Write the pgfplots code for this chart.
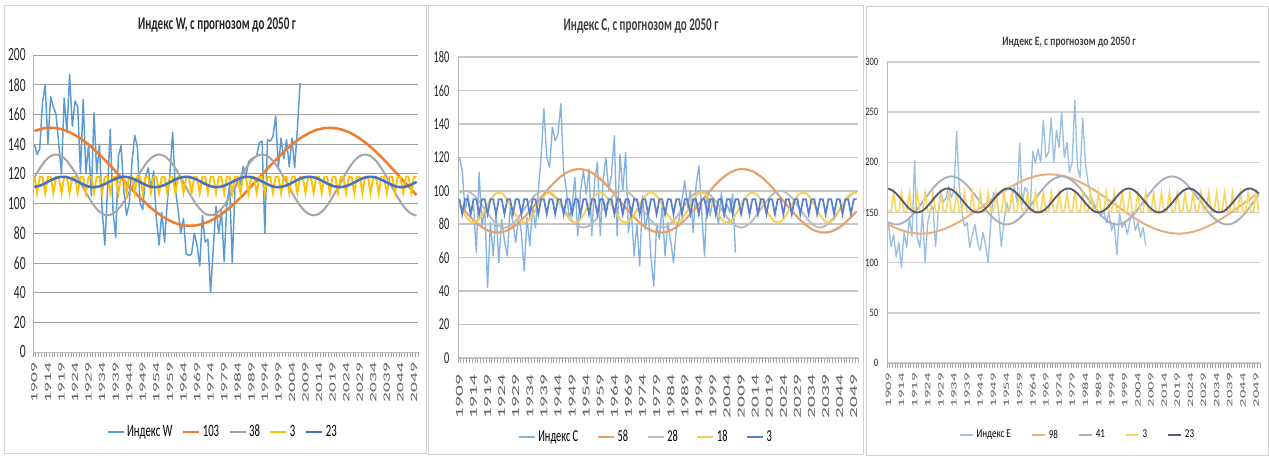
\documentclass[border=0pt]{standalone}
\usepackage{fontspec}
\usepackage{graphicx}
\usepackage{pgfplots}
\pgfplotsset{compat=1.18}
\setmainfont{Carlito}
\newfontfamily\sqA[FakeStretch=0.62]{Carlito}
\newfontfamily\sqB[FakeStretch=0.75]{Carlito}
\newcommand\yl[1]{\scalebox{1}[0.5]{#1}}

\definecolor{wI}{HTML}{5B9BD5}
\definecolor{wO}{HTML}{ED7D31}
\definecolor{wG}{HTML}{A5A5A5}
\definecolor{wY}{HTML}{FFC000}
\definecolor{wB}{HTML}{4472C4}
\definecolor{cI}{HTML}{86B2E0}
\definecolor{cO}{HTML}{E8A06A}
\definecolor{cG}{HTML}{BBBBBB}
\definecolor{cY}{HTML}{F5CE55}
\definecolor{cB}{HTML}{5A80CC}
\definecolor{eI}{HTML}{9CC0E4}
\definecolor{eO}{HTML}{E7B084}
\definecolor{eG}{HTML}{A8AEBE}
\definecolor{eY}{HTML}{F7D662}
\definecolor{eD}{HTML}{535B78}

\pgfplotsset{
  base/.style={
    scale only axis,
    anchor=south west,
    xmin=1908.5, xmax=2050.5,
    axis lines*=left,
    axis line style={draw=black!28, line width=0.6pt},
    xtick={1909,1914,...,2049},
    minor xtick={1908.5,1909.5,...,2050.5},
    xticklabel={\yl{\pgfmathprintnumber[int detect,1000 sep={}]{\tick}}},
    major tick length=0pt,
    minor tick length=4pt,
    tick align=outside,
    minor x tick style={draw=black!35, line width=0.5pt},
    ymajorgrids,
    /pgf/number format/assume math mode=true,
    x tick label style={rotate=90, anchor=east, inner sep=0pt, text=black!62},
    y tick label style={text=black!85},
    legend columns=-1,
    legend image code/.code={\draw[#1] (0pt,0pt) -- (12pt,0pt);},
    legend style={draw=none, fill=none, anchor=center, inner sep=0pt},
  },
}

\begin{document}
\begin{tikzpicture}
\path[use as bounding box] (0,0) rectangle (951.75pt,342.75pt);
\fill[white] (0,0) rectangle (951.75pt,342.75pt);
\draw[black!18] (3pt,3pt) rectangle (319.5pt,339pt);
\draw[black!18] (321pt,2.25pt) rectangle (647.25pt,339pt);
\draw[black!18] (649.5pt,1.5pt) rectangle (951pt,338.25pt);

\node[font=\sqA\bfseries\fontsize{13.4}{15}\selectfont, text=black!85] at (162.75pt,324pt) {Индекс W, с прогнозом до 2050 г};
\node[font=\sqA\bfseries\fontsize{13.4}{15}\selectfont, text=black!75] at (480.75pt,323.25pt) {Индекс С, с прогнозом до 2050 г};
\node[font=\sqB\bfseries\fontsize{9.6}{12}\selectfont, text=black!75] at (801.75pt,311.25pt) {Индекс Е, с прогнозом до 2050 г};

% ---------------- Index W ----------------
\begin{axis}[base, at={(24.75pt,78.75pt)}, width=288.75pt, height=222.75pt,
  ymin=0, ymax=200, ytick={0,20,...,200},
  grid style={draw=black!38, line width=0.6pt},
  yticklabel style={font=\sqA\fontsize{14}{14}\selectfont, xshift=-2pt},
  xticklabel style={font=\fontsize{14.5}{15}\selectfont},
  xticklabel shift=8pt,
  legend style={at={(0.494,-0.269)}, font=\sqA\fontsize{13}{13}\selectfont,
    /tikz/every even column/.append style={column sep=5pt}},
]
\addplot[wI, line width=1.1pt, line join=round] coordinates {
(1909,140)(1910,133)(1911,137)(1912,168)(1913,180)(1914,140)(1915,172)(1916,165)(1917,160)(1918,140)
(1919,120)(1920,171)(1921,148)(1922,187)(1923,152)(1924,169)(1925,165)(1926,120)(1927,170)(1928,120)
(1929,140)(1930,105)(1931,161)(1932,120)(1933,140)(1934,96)(1935,72)(1936,110)(1937,150)(1938,95)
(1939,77)(1940,132)(1941,139)(1942,108)(1943,92)(1944,100)(1945,128)(1946,146)(1947,138)(1948,100)
(1949,96)(1950,118)(1951,124)(1952,110)(1953,122)(1954,90)(1955,72)(1956,94)(1957,74)(1958,100)
(1959,120)(1960,148)(1961,110)(1962,96)(1963,80)(1964,90)(1965,66)(1966,65)(1967,66)(1968,80)
(1969,72)(1970,58)(1971,92)(1972,74)(1973,76)(1974,40)(1975,70)(1976,98)(1977,80)(1978,95)
(1979,61)(1980,100)(1981,112)(1982,60)(1983,110)(1984,117)(1985,113)(1986,125)(1987,118)(1988,128)
(1989,130)(1990,131)(1991,132)(1992,141)(1993,142)(1994,80)(1995,143)(1996,142)(1997,145)(1998,159)
(1999,124)(2000,144)(2001,130)(2002,143)(2003,125)(2004,144)(2005,124)(2006,150)(2007,181)
};
\addlegendentry{Индекс W}
\addplot[wO, line width=1.9pt, smooth] coordinates {
(1909,148.8)(1913,150.8)(1917,150.8)(1921,148.8)(1925,145.0)(1929,139.7)(1933,133.0)(1937,125.5)
(1941,117.5)(1945,109.5)(1949,102.1)(1953,95.6)(1957,90.4)(1961,86.8)(1965,85.1)(1969,85.4)
(1973,87.6)(1977,91.5)(1981,97.1)(1985,103.9)(1989,111.5)(1993,119.5)(1997,127.4)(2001,134.8)
(2005,141.2)(2009,146.1)(2013,149.5)(2017,150.9)(2021,150.4)(2025,148.0)(2029,143.8)(2033,138.1)
(2037,131.2)(2041,123.5)(2045,115.5)(2049,107.6)(2050,105.7)
};
\addlegendentry{103}
\addplot[wG, line width=1.5pt, smooth] coordinates {
(1909,117.5)(1911,123.7)(1913,128.7)(1915,131.9)(1917,133.0)(1919,131.9)(1921,128.7)(1923,123.7)(1925,117.5)(1927,110.8)
(1929,104.3)(1931,98.6)(1933,94.5)(1935,92.3)(1937,92.3)(1939,94.5)(1941,98.6)(1943,104.3)(1945,110.8)
(1947,117.5)(1949,123.7)(1951,128.7)(1953,131.9)(1955,133.0)(1957,131.9)(1959,128.7)(1961,123.7)(1963,117.5)(1965,110.8)
(1967,104.3)(1969,98.6)(1971,94.5)(1973,92.3)(1975,92.3)(1977,94.5)(1979,98.6)(1981,104.3)(1983,110.8)
(1985,117.5)(1987,123.7)(1989,128.7)(1991,131.9)(1993,133.0)(1995,131.9)(1997,128.7)(1999,123.7)(2001,117.5)(2003,110.8)
(2005,104.3)(2007,98.6)(2009,94.5)(2011,92.3)(2013,92.3)(2015,94.5)(2017,98.6)(2019,104.3)(2021,110.8)
(2023,117.5)(2025,123.7)(2027,128.7)(2029,131.9)(2031,133.0)(2033,131.9)(2035,128.7)(2037,123.7)(2039,117.5)(2041,110.8)
(2043,104.3)(2045,98.6)(2047,94.5)(2049,92.3)(2050,92.0)
};
\addlegendentry{38}
\addplot[wY, line width=1.4pt] coordinates {
(1909,118)(1910,107)(1911,118)(1912,118)(1913,107)(1914,118)(1915,118)(1916,107)(1917,118)
(1918,118)(1919,107)(1920,118)(1921,118)(1922,107)(1923,118)(1924,118)(1925,107)(1926,118)
(1927,118)(1928,107)(1929,118)(1930,118)(1931,107)(1932,118)(1933,118)(1934,107)(1935,118)
(1936,118)(1937,107)(1938,118)(1939,118)(1940,107)(1941,118)(1942,118)(1943,107)(1944,118)
(1945,118)(1946,107)(1947,118)(1948,118)(1949,107)(1950,118)(1951,118)(1952,107)(1953,118)
(1954,118)(1955,107)(1956,118)(1957,118)(1958,107)(1959,118)(1960,118)(1961,107)(1962,118)
(1963,118)(1964,107)(1965,118)(1966,118)(1967,107)(1968,118)(1969,118)(1970,107)(1971,118)
(1972,118)(1973,107)(1974,118)(1975,118)(1976,107)(1977,118)(1978,118)(1979,107)(1980,118)
(1981,118)(1982,107)(1983,118)(1984,118)(1985,107)(1986,118)(1987,118)(1988,107)(1989,118)
(1990,118)(1991,107)(1992,118)(1993,118)(1994,107)(1995,118)(1996,118)(1997,107)(1998,118)
(1999,118)(2000,107)(2001,118)(2002,118)(2003,107)(2004,118)(2005,118)(2006,107)(2007,118)
(2008,118)(2009,107)(2010,118)(2011,118)(2012,107)(2013,118)(2014,118)(2015,107)(2016,118)
(2017,118)(2018,107)(2019,118)(2020,118)(2021,107)(2022,118)(2023,118)(2024,107)(2025,118)
(2026,118)(2027,107)(2028,118)(2029,118)(2030,107)(2031,118)(2032,118)(2033,107)(2034,118)
(2035,118)(2036,107)(2037,118)(2038,118)(2039,107)(2040,118)(2041,118)(2042,107)(2043,118)
(2044,118)(2045,107)(2046,118)(2047,118)(2048,107)(2049,118)(2050,118)
};
\addlegendentry{3}
\addplot[wB, line width=1.9pt, smooth] coordinates {
(1909,111.1)(1911,112.0)(1913,113.7)(1915,115.6)(1917,117.2)(1919,118.0)(1921,117.7)(1923,116.5)(1925,114.7)(1927,112.8)
(1929,111.4)(1931,111.0)(1933,111.6)(1935,113.1)(1937,115.0)(1939,116.7)(1941,117.8)(1943,117.9)(1945,117.0)(1947,115.3)
(1949,113.4)(1951,111.8)(1953,111.0)(1955,111.3)(1957,112.5)(1959,114.3)(1961,116.2)(1963,117.5)(1965,118.0)(1967,117.4)
(1969,116.0)(1971,114.1)(1973,112.3)(1975,111.2)(1977,111.1)(1979,112.0)(1981,113.6)(1983,115.5)(1985,117.1)(1987,118.0)
(1989,117.7)(1991,116.6)(1993,114.8)(1995,112.9)(1997,111.5)(1999,111.0)(2001,111.6)(2003,113.0)(2005,114.9)(2007,116.7)
(2009,117.8)(2011,117.9)(2013,117.1)(2015,115.4)(2017,113.5)(2019,111.9)(2021,111.1)(2023,111.3)(2025,112.4)(2027,114.2)
(2029,116.1)(2031,117.5)(2033,118.0)(2035,117.5)(2037,116.0)(2039,114.2)(2041,112.4)(2043,111.2)(2045,111.1)(2047,111.9)
(2049,113.6)(2050,114.5)
};
\addlegendentry{23}
\end{axis}

% ---------------- Index C ----------------
\begin{axis}[base, at={(343.5pt,74.25pt)}, width=300pt, height=225.75pt,
  ymin=0, ymax=180, ytick={0,20,...,180},
  grid style={draw=black!22, line width=1.2pt},
  yticklabel style={font=\sqA\fontsize{12.5}{12.5}\selectfont, xshift=-3pt},
  xticklabel style={font=\fontsize{16}{16}\selectfont},
  xticklabel shift=12.5pt,
  legend style={at={(0.471,-0.262)}, font=\sqA\fontsize{12.5}{13}\selectfont,
    /tikz/every even column/.append style={column sep=12pt}},
]
\addplot[cI, line width=1.0pt, line join=round] coordinates {
(1909,120)(1910,112)(1911,88)(1912,98)(1913,86)(1914,92)(1915,63)(1916,111)(1917,78)(1918,90)
(1919,42)(1920,81)(1921,61)(1922,88)(1923,57)(1924,83)(1925,70)(1926,61)(1927,90)(1928,81)
(1929,69)(1930,85)(1931,75)(1932,52)(1933,84)(1934,67)(1935,90)(1936,78)(1937,100)(1938,120)
(1939,149)(1940,120)(1941,114)(1942,138)(1943,130)(1944,134)(1945,152)(1946,112)(1947,100)(1948,83)
(1949,91)(1950,108)(1951,73)(1952,100)(1953,112)(1954,98)(1955,113)(1956,73)(1957,106)(1958,117)
(1959,73)(1960,106)(1961,120)(1962,100)(1963,110)(1964,133)(1965,73)(1966,122)(1967,100)(1968,123)
(1969,75)(1970,90)(1971,61)(1972,80)(1973,55)(1974,97)(1975,77)(1976,88)(1977,60)(1978,43)
(1979,80)(1980,71)(1981,92)(1982,61)(1983,81)(1984,70)(1985,57)(1986,77)(1987,83)(1988,95)
(1989,106)(1990,90)(1991,100)(1992,75)(1993,103)(1994,115)(1995,88)(1996,61)(1997,100)(1998,85)
(1999,95)(2000,89)(2001,80)(2002,99)(2003,84)(2004,92)(2005,87)(2006,98)(2007,63)
};
\addlegendentry{Индекс С}
\addplot[cO, line width=1.6pt, smooth] coordinates {
(1909,91.9)(1911,87.9)(1913,84.2)(1915,80.9)(1917,78.3)(1919,76.3)(1921,75.3)(1923,75.0)(1925,75.7)(1927,77.2)
(1929,79.5)(1931,82.5)(1933,86.0)(1935,89.9)(1937,94.0)(1939,98.1)(1941,102.0)(1943,105.5)(1945,108.5)(1947,110.8)
(1949,112.3)(1951,113.0)(1953,112.7)(1955,111.7)(1957,109.7)(1959,107.1)(1961,103.8)(1963,100.1)(1965,96.1)
(1967,91.9)(1969,87.9)(1971,84.2)(1973,80.9)(1975,78.3)(1977,76.3)(1979,75.3)(1981,75.0)(1983,75.7)(1985,77.2)
(1987,79.5)(1989,82.5)(1991,86.0)(1993,89.9)(1995,94.0)(1997,98.1)(1999,102.0)(2001,105.5)(2003,108.5)(2005,110.8)
(2007,112.3)(2009,113.0)(2011,112.7)(2013,111.7)(2015,109.7)(2017,107.1)(2019,103.8)(2021,100.1)(2023,96.1)
(2025,91.9)(2027,87.9)(2029,84.2)(2031,80.9)(2033,78.3)(2035,76.3)(2037,75.3)(2039,75.0)(2041,75.7)(2043,77.2)
(2045,79.5)(2047,82.5)(2049,86.0)(2050,87.9)
};
\addlegendentry{58}
\addplot[cG, line width=1.4pt, smooth] coordinates {
(1909,98.9)(1911,100.0)(1913,98.9)(1915,95.9)(1917,91.4)(1919,86.6)(1921,82.1)(1923,79.1)(1925,78.0)(1927,79.1)(1929,82.1)(1931,86.6)(1933,91.4)(1935,95.9)
(1937,98.9)(1939,100.0)(1941,98.9)(1943,95.9)(1945,91.4)(1947,86.6)(1949,82.1)(1951,79.1)(1953,78.0)(1955,79.1)(1957,82.1)(1959,86.6)(1961,91.4)(1963,95.9)
(1965,98.9)(1967,100.0)(1969,98.9)(1971,95.9)(1973,91.4)(1975,86.6)(1977,82.1)(1979,79.1)(1981,78.0)(1983,79.1)(1985,82.1)(1987,86.6)(1989,91.4)(1991,95.9)
(1993,98.9)(1995,100.0)(1997,98.9)(1999,95.9)(2001,91.4)(2003,86.6)(2005,82.1)(2007,79.1)(2009,78.0)(2011,79.1)(2013,82.1)(2015,86.6)(2017,91.4)(2019,95.9)
(2021,98.9)(2023,100.0)(2025,98.9)(2027,95.9)(2029,91.4)(2031,86.6)(2033,82.1)(2035,79.1)(2037,78.0)(2039,79.1)(2041,82.1)(2043,86.6)(2045,91.4)(2047,95.9)
(2049,98.9)(2050,99.7)
};
\addlegendentry{28}
\addplot[cY, line width=1.4pt, smooth] coordinates {
(1909,91.6)(1911,85.5)(1913,81.5)(1915,81.5)(1917,85.5)(1919,91.6)(1921,96.9)(1923,99.0)(1925,96.9)
(1927,91.6)(1929,85.5)(1931,81.5)(1933,81.5)(1935,85.5)(1937,91.6)(1939,96.9)(1941,99.0)(1943,96.9)
(1945,91.6)(1947,85.5)(1949,81.5)(1951,81.5)(1953,85.5)(1955,91.6)(1957,96.9)(1959,99.0)(1961,96.9)
(1963,91.6)(1965,85.5)(1967,81.5)(1969,81.5)(1971,85.5)(1973,91.6)(1975,96.9)(1977,99.0)(1979,96.9)
(1981,91.6)(1983,85.5)(1985,81.5)(1987,81.5)(1989,85.5)(1991,91.6)(1993,96.9)(1995,99.0)(1997,96.9)
(1999,91.6)(2001,85.5)(2003,81.5)(2005,81.5)(2007,85.5)(2009,91.6)(2011,96.9)(2013,99.0)(2015,96.9)
(2017,91.6)(2019,85.5)(2021,81.5)(2023,81.5)(2025,85.5)(2027,91.6)(2029,96.9)(2031,99.0)(2033,96.9)
(2035,91.6)(2037,85.5)(2039,81.5)(2041,81.5)(2043,85.5)(2045,91.6)(2047,96.9)(2049,99.0)(2050,98.5)
};
\addlegendentry{18}
\addplot[cB, line width=1.3pt] coordinates {
(1909,95)(1910,86)(1911,95)(1912,95)(1913,86)(1914,95)(1915,95)(1916,86)(1917,95)
(1918,95)(1919,86)(1920,95)(1921,95)(1922,86)(1923,95)(1924,95)(1925,86)(1926,95)
(1927,95)(1928,86)(1929,95)(1930,95)(1931,86)(1932,95)(1933,95)(1934,86)(1935,95)
(1936,95)(1937,86)(1938,95)(1939,95)(1940,86)(1941,95)(1942,95)(1943,86)(1944,95)
(1945,95)(1946,86)(1947,95)(1948,95)(1949,86)(1950,95)(1951,95)(1952,86)(1953,95)
(1954,95)(1955,86)(1956,95)(1957,95)(1958,86)(1959,95)(1960,95)(1961,86)(1962,95)
(1963,95)(1964,86)(1965,95)(1966,95)(1967,86)(1968,95)(1969,95)(1970,86)(1971,95)
(1972,95)(1973,86)(1974,95)(1975,95)(1976,86)(1977,95)(1978,95)(1979,86)(1980,95)
(1981,95)(1982,86)(1983,95)(1984,95)(1985,86)(1986,95)(1987,95)(1988,86)(1989,95)
(1990,95)(1991,86)(1992,95)(1993,95)(1994,86)(1995,95)(1996,95)(1997,86)(1998,95)
(1999,95)(2000,86)(2001,95)(2002,95)(2003,86)(2004,95)(2005,95)(2006,86)(2007,95)
(2008,95)(2009,86)(2010,95)(2011,95)(2012,86)(2013,95)(2014,95)(2015,86)(2016,95)
(2017,95)(2018,86)(2019,95)(2020,95)(2021,86)(2022,95)(2023,95)(2024,86)(2025,95)
(2026,95)(2027,86)(2028,95)(2029,95)(2030,86)(2031,95)(2032,95)(2033,86)(2034,95)
(2035,95)(2036,86)(2037,95)(2038,95)(2039,86)(2040,95)(2041,95)(2042,86)(2043,95)
(2044,95)(2045,86)(2046,95)(2047,95)(2048,86)(2049,95)(2050,95)
};
\addlegendentry{3}
\end{axis}

% ---------------- Index E ----------------
\begin{axis}[base, at={(665.25pt,70.5pt)}, width=279.75pt, height=225.75pt,
  ymin=0, ymax=300, ytick={0,50,...,300},
  grid style={draw=black!18, line width=1.2pt},
  yticklabel style={font=\sqB\fontsize{8.5}{9}\selectfont, xshift=-3pt},
  xticklabel style={font=\fontsize{12.5}{13}\selectfont},
  xticklabel shift=7.5pt,
  legend image code/.code={\draw[#1] (0pt,0pt) -- (10pt,0pt);},
  legend style={at={(0.512,-0.239)}, font=\sqB\fontsize{9}{10}\selectfont,
    /tikz/every even column/.append style={column sep=13pt}},
]
\addplot[eI, line width=1.0pt, line join=round] coordinates {
(1909,140)(1910,116)(1911,128)(1912,106)(1913,120)(1914,95)(1915,130)(1916,115)(1917,145)(1918,126)
(1919,202)(1920,126)(1921,115)(1922,150)(1923,100)(1924,140)(1925,152)(1926,156)(1927,116)(1928,150)
(1929,171)(1930,160)(1931,165)(1932,176)(1933,165)(1934,172)(1935,231)(1936,176)(1937,150)(1938,136)
(1939,140)(1940,115)(1941,128)(1942,138)(1943,120)(1944,112)(1945,130)(1946,118)(1947,100)(1948,140)
(1949,170)(1950,166)(1951,150)(1952,116)(1953,140)(1954,160)(1955,150)(1956,165)(1957,175)(1958,160)
(1959,219)(1960,158)(1961,175)(1962,170)(1963,150)(1964,211)(1965,199)(1966,213)(1967,200)(1968,242)
(1969,205)(1970,210)(1971,244)(1972,200)(1973,232)(1974,215)(1975,250)(1976,205)(1977,220)(1978,190)
(1979,200)(1980,262)(1981,195)(1982,185)(1983,244)(1984,200)(1985,180)(1986,169)(1987,160)(1988,156)
(1989,150)(1990,146)(1991,152)(1992,140)(1993,150)(1994,132)(1995,140)(1996,108)(1997,150)(1998,135)
(1999,140)(2000,128)(2001,142)(2002,150)(2003,132)(2004,140)(2005,125)(2006,135)(2007,117)
};
\addlegendentry{Индекс Е}
\addplot[eO, line width=1.5pt, smooth] coordinates {
(1909,138.0)(1913,133.3)(1917,130.2)(1921,129.0)(1925,129.7)(1929,132.4)(1933,136.7)(1937,142.4)
(1941,149.2)(1945,156.6)(1949,164.1)(1953,171.3)(1957,177.6)(1961,182.7)(1965,186.2)(1969,187.9)
(1973,187.6)(1977,185.5)(1981,181.6)(1985,176.1)(1989,169.6)(1993,162.3)(1997,154.7)(2001,147.4)
(2005,140.8)(2009,135.4)(2013,131.5)(2017,129.4)(2021,129.1)(2025,130.8)(2029,134.3)(2033,139.4)
(2037,145.7)(2041,152.9)(2045,160.4)(2049,167.8)(2050,169.6)
};
\addlegendentry{98}
\addplot[eG, line width=1.4pt, smooth] coordinates {
(1909,140.4)(1911,138.3)(1913,138.3)(1915,140.4)(1917,144.4)(1919,150.0)(1921,156.7)(1923,163.8)(1925,170.8)(1927,177.0)(1929,181.8)
(1931,184.9)(1933,186.0)(1935,184.9)(1937,181.8)(1939,177.0)(1941,170.8)(1943,163.8)(1945,156.7)(1947,150.0)(1949,144.4)
(1951,140.4)(1953,138.3)(1955,138.3)(1957,140.4)(1959,144.4)(1961,150.0)(1963,156.7)(1965,163.8)(1967,170.8)(1969,177.0)(1971,181.8)
(1973,184.9)(1975,186.0)(1977,184.9)(1979,181.8)(1981,177.0)(1983,170.8)(1985,163.8)(1987,156.7)(1989,150.0)(1991,144.4)
(1993,140.4)(1995,138.3)(1997,138.3)(1999,140.4)(2001,144.4)(2003,150.0)(2005,156.7)(2007,163.8)(2009,170.8)(2011,177.0)(2013,181.8)
(2015,184.9)(2017,186.0)(2019,184.9)(2021,181.8)(2023,177.0)(2025,170.8)(2027,163.8)(2029,156.7)(2031,150.0)(2033,144.4)
(2035,140.4)(2037,138.3)(2039,138.3)(2041,140.4)(2043,144.4)(2045,150.0)(2047,156.7)(2049,163.8)(2050,167.4)
};
\addlegendentry{41}
\addplot[eY, line width=1.2pt] coordinates {
(1909,151)(1910,151)(1911,170)(1912,151)(1913,151)(1914,170)(1915,151)(1916,151)(1917,170)
(1918,151)(1919,151)(1920,170)(1921,151)(1922,151)(1923,170)(1924,151)(1925,151)(1926,170)
(1927,151)(1928,151)(1929,170)(1930,151)(1931,151)(1932,170)(1933,151)(1934,151)(1935,170)
(1936,151)(1937,151)(1938,170)(1939,151)(1940,151)(1941,170)(1942,151)(1943,151)(1944,170)
(1945,151)(1946,151)(1947,170)(1948,151)(1949,151)(1950,170)(1951,151)(1952,151)(1953,170)
(1954,151)(1955,151)(1956,170)(1957,151)(1958,151)(1959,170)(1960,151)(1961,151)(1962,170)
(1963,151)(1964,151)(1965,170)(1966,151)(1967,151)(1968,170)(1969,151)(1970,151)(1971,170)
(1972,151)(1973,151)(1974,170)(1975,151)(1976,151)(1977,170)(1978,151)(1979,151)(1980,170)
(1981,151)(1982,151)(1983,170)(1984,151)(1985,151)(1986,170)(1987,151)(1988,151)(1989,170)
(1990,151)(1991,151)(1992,170)(1993,151)(1994,151)(1995,170)(1996,151)(1997,151)(1998,170)
(1999,151)(2000,151)(2001,170)(2002,151)(2003,151)(2004,170)(2005,151)(2006,151)(2007,170)
(2008,151)(2009,151)(2010,170)(2011,151)(2012,151)(2013,170)(2014,151)(2015,151)(2016,170)
(2017,151)(2018,151)(2019,170)(2020,151)(2021,151)(2022,170)(2023,151)(2024,151)(2025,170)
(2026,151)(2027,151)(2028,170)(2029,151)(2030,151)(2031,170)(2032,151)(2033,151)(2034,170)
(2035,151)(2036,151)(2037,170)(2038,151)(2039,151)(2040,170)(2041,151)(2042,151)(2043,170)
(2044,151)(2045,151)(2046,170)(2047,151)(2048,151)(2049,170)(2050,151)
};
\addlegendentry{3}
\addplot[eD, line width=1.4pt, smooth] coordinates {
(1909,173.9)(1911,171.3)(1913,166.0)(1915,159.6)(1917,153.8)(1919,150.4)(1921,150.4)(1923,153.8)(1925,159.6)(1927,166.0)(1929,171.3)(1931,173.9)
(1933,173.0)(1935,168.9)(1937,162.8)(1939,156.5)(1941,151.7)(1943,150.0)(1945,151.7)(1947,156.5)(1949,162.8)(1951,168.9)(1953,173.0)
(1955,173.9)(1957,171.3)(1959,166.0)(1961,159.6)(1963,153.8)(1965,150.4)(1967,150.4)(1969,153.8)(1971,159.6)(1973,166.0)(1975,171.3)(1977,173.9)
(1979,173.0)(1981,168.9)(1983,162.8)(1985,156.5)(1987,151.7)(1989,150.0)(1991,151.7)(1993,156.5)(1995,162.8)(1997,168.9)(1999,173.0)
(2001,173.9)(2003,171.3)(2005,166.0)(2007,159.6)(2009,153.8)(2011,150.4)(2013,150.4)(2015,153.8)(2017,159.6)(2019,166.0)(2021,171.3)(2023,173.9)
(2025,173.0)(2027,168.9)(2029,162.8)(2031,156.5)(2033,151.7)(2035,150.0)(2037,151.7)(2039,156.5)(2041,162.8)(2043,168.9)(2045,173.0)
(2047,173.9)(2049,171.3)(2050,168.9)
};
\addlegendentry{23}
\end{axis}
\end{tikzpicture}
\end{document}
